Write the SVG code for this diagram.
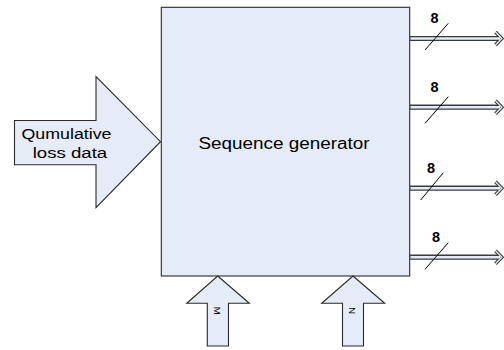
<svg xmlns="http://www.w3.org/2000/svg" width="504" height="350" viewBox="0 0 504 350">
  <style>
    .shape { fill: #e5ebf7; stroke: #2a2a2a; stroke-width: 1.1; }
    .label { font-family: "Liberation Sans", Arial, sans-serif; fill: #000; }
    .bus-outer { stroke: #3a3a3a; stroke-width: 5.2; fill: none; }
    .bus-inner { stroke: #e5ebf7; stroke-width: 2.4; fill: none; }
    .head-outer { stroke: #3a3a3a; stroke-width: 3.6; fill: none; stroke-linejoin: miter; }
    .head-inner { stroke: #e5ebf7; stroke-width: 1.4; fill: none; stroke-linejoin: miter; }
    .slash { stroke: #000; stroke-width: 1; }
    .width { font-family: "Liberation Sans", Arial, sans-serif; font-weight: bold; font-size: 14.5px; }
  </style>
  <rect width="504" height="350" fill="#ffffff"/>

  <!-- main block -->
  <g id="sequence-generator">
    <rect class="shape" x="161.3" y="7.3" width="248.4" height="268.7"/>
    <text class="label" x="198.5" y="149" font-size="16" textLength="171" lengthAdjust="spacingAndGlyphs">Sequence generator</text>
  </g>

  <!-- input arrow on the left -->
  <g id="loss-data-input">
    <polygon class="shape" points="14.5,120.5 96,120.5 96,76.7 160.5,141.7 96,207.7 96,164.7 14.5,164.7"/>
    <text class="label" x="21.5" y="139" font-size="14" textLength="90" lengthAdjust="spacingAndGlyphs">Qumulative</text>
    <text class="label" x="32.7" y="158" font-size="14" textLength="74.5" lengthAdjust="spacingAndGlyphs">loss data</text>
  </g>

  <!-- parameter inputs at the bottom -->
  <g id="input-m">
    <polygon class="shape" points="217.7,276 249.3,303.3 228.5,303.3 228.5,346 207.3,346 207.3,303.3 186.7,303.3"/>
    <text class="label" font-size="9.5" text-anchor="middle" transform="translate(214,310.7) rotate(90)">M</text>
  </g>
  <g id="input-n">
    <polygon class="shape" points="353,276 384.7,303.3 363.5,303.3 363.5,346 342.5,346 342.5,303.3 321.7,303.3"/>
    <text class="label" font-size="9.5" text-anchor="middle" transform="translate(349,310.7) rotate(90)">N</text>
  </g>

  <!-- 8-bit output buses -->
  <g id="connectors">
    <g id="bus-outlines">
      <line class="bus-outer" x1="410" y1="38.5" x2="500" y2="38.5"/>
      <line class="bus-outer" x1="410" y1="107.2" x2="500" y2="107.2"/>
      <line class="bus-outer" x1="410" y1="188.2" x2="500" y2="188.2"/>
      <line class="bus-outer" x1="410" y1="257.2" x2="500" y2="257.2"/>
      <polyline class="head-outer" points="495.5,32 501.8,38.5 495.5,45"/>
      <polyline class="head-outer" points="495.5,100.7 501.8,107.2 495.5,113.7"/>
      <polyline class="head-outer" points="495.5,181.7 501.8,188.2 495.5,194.7"/>
      <polyline class="head-outer" points="495.5,250.7 501.8,257.2 495.5,263.7"/>
    </g>
    <g id="bus-fills">
      <line class="bus-inner" x1="410.5" y1="38.5" x2="500" y2="38.5"/>
      <line class="bus-inner" x1="410.5" y1="107.2" x2="500" y2="107.2"/>
      <line class="bus-inner" x1="410.5" y1="188.2" x2="500" y2="188.2"/>
      <line class="bus-inner" x1="410.5" y1="257.2" x2="500" y2="257.2"/>
      <polyline class="head-inner" points="495.5,32 501.8,38.5 495.5,45"/>
      <polyline class="head-inner" points="495.5,100.7 501.8,107.2 495.5,113.7"/>
      <polyline class="head-inner" points="495.5,181.7 501.8,188.2 495.5,194.7"/>
      <polyline class="head-inner" points="495.5,250.7 501.8,257.2 495.5,263.7"/>
    </g>
    <g id="bus-width-marks">
      <line class="slash" x1="425" y1="50" x2="448.3" y2="23.3"/>
      <line class="slash" x1="425" y1="123.3" x2="448.3" y2="96.7"/>
      <line class="slash" x1="420.7" y1="200" x2="443.3" y2="172.7"/>
      <line class="slash" x1="425" y1="269.3" x2="448.3" y2="242.7"/>
      <text class="width" x="430.5" y="22.5">8</text>
      <text class="width" x="430.5" y="92">8</text>
      <text class="width" x="427" y="172.5">8</text>
      <text class="width" x="432" y="242">8</text>
    </g>
  </g>
</svg>
